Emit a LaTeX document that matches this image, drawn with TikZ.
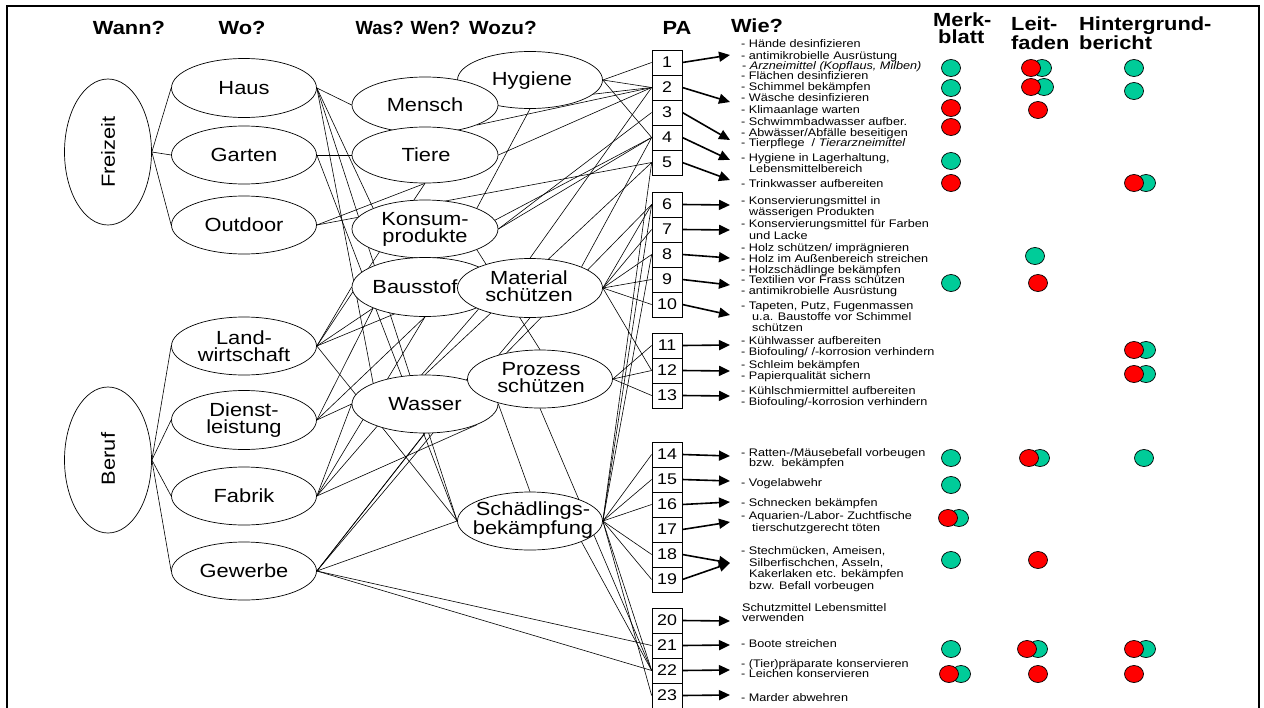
\documentclass[tikz,border=0pt]{standalone}
\usepackage{fontspec}
\usepackage{graphicx}
\setmainfont{Liberation Sans}[FakeStretch=1.15]
\usetikzlibrary{arrows.meta,shapes.geometric}
\pgfdeclarelayer{wires}
\pgfsetlayers{wires,main}
\definecolor{dotgreen}{HTML}{00CC99}
\definecolor{dotred}{HTML}{FF0000}
\begin{document}
\begin{tikzpicture}[x=1pt,y=-1pt,
  oval/.style={ellipse,draw,fill=white,inner sep=0pt,line width=0.7pt},
  lbl/.style={font=\fontsize{19}{17}\selectfont,align=center,inner sep=0pt},
  head/.style={font=\fontsize{19}{17}\selectfont\bfseries,inner sep=0pt,anchor=base},
  headl/.style={font=\fontsize{19}{17}\selectfont\bfseries,inner sep=0pt,anchor=base west},
  pabox/.style={draw,fill=white,minimum width=30pt,minimum height=25pt,inner sep=0pt,
    font=\fontsize{15.5}{15}\selectfont,line width=0.7pt},
  wire/.style={line width=0.6pt},
  arr/.style={line width=1.6pt,-{Triangle[length=11pt,width=10pt]}},
  wie/.style={anchor=base west,inner sep=0pt,font=\fontsize{11}{11}\selectfont},
  dot/.style={ellipse,draw,line width=0.7pt,minimum width=19pt,minimum height=17pt,inner sep=0pt}
]
\useasboundingbox (0,0) rectangle (1264,707);

% frame
\draw[line width=2pt] (7,712) -- (7,6) -- (1259,6) -- (1259,712);

% column headings
\node[head] (hwann) at (129,34) {Wann?};
\node[head] (hwo) at (242,34) {Wo?};
\node[head] (hwas) at (408,34) {\scalebox{0.84}[1]{Was? Wen?}};
\node[head] (hwozu) at (503,34) {\scalebox{0.95}[1]{Wozu?}};
\node[head] (hpa) at (677,34) {PA};
\node[head] (hwie) at (757,32) {Wie?};
\node[headl] (hm1) at (933,26) {Merk-};
\node[headl] (hm2) at (938,43) {blatt};
\node[headl] (hl1) at (1011,30) {Leit-};
\node[headl] (hl2) at (1011,49) {faden};
\node[headl] (hh1) at (1079,30) {Hintergrund-};
\node[headl] (hh2) at (1079,49) {bericht};

% Wann?
\node[oval,minimum width=87pt,minimum height=146pt] (frei) at (108,152) {};
\node[lbl,rotate=90] (freit) at (108,152) {Freizeit};
\node[oval,minimum width=87pt,minimum height=146pt] (beruf) at (108,460) {};
\node[lbl,rotate=90] (beruft) at (108,459) {Beruf};

% Wo?
\node[oval,minimum width=145pt,minimum height=59pt] (haus) at (244,88) {};
\node[lbl] (haust) at (244,88) {Haus};
\node[oval,minimum width=145pt,minimum height=58pt] (garten) at (244,155) {};
\node[lbl] (gartent) at (244,155) {Garten};
\node[oval,minimum width=145pt,minimum height=58pt] (outdoor) at (244,225) {};
\node[lbl] (outdoort) at (244,225) {Outdoor};
\node[oval,minimum width=145pt,minimum height=58pt] (landw) at (244,346) {};
\node[lbl] (landwt) at (244,346) {Land-\\wirtschaft};
\node[oval,minimum width=145pt,minimum height=59pt] (dienst) at (244,420) {};
\node[lbl] (dienstt) at (244,420) {Dienst-\\leistung};
\node[oval,minimum width=145pt,minimum height=58pt] (fabrik) at (244,496) {};
\node[lbl] (fabrikt) at (244,496) {Fabrik};
\node[oval,minimum width=145pt,minimum height=58pt] (gewerbe) at (244,571) {};
\node[lbl] (gewerbet) at (244,571) {Gewerbe};

% Wozu? (partly covered by the next column)
\node[oval,minimum width=145pt,minimum height=57pt] (hyg) at (530,80) {};
\node[lbl] (hygt) at (532,81) {Hygiene};

% Was? Wen?
\node[oval,minimum width=146pt,minimum height=56pt] (mensch) at (425,105) {};
\node[lbl] (menscht) at (425,105) {Mensch};
\node[oval,minimum width=146pt,minimum height=56pt] (tiere) at (425,155) {};
\node[lbl] (tieret) at (426,155) {Tiere};
\node[oval,minimum width=146pt,minimum height=58pt] (konsum) at (425,229) {};
\node[lbl] (konsumt) at (425,229) {Konsum-\\produkte};
\node[oval,minimum width=146pt,minimum height=59pt] (bau) at (425,287) {};
\node[lbl] (baut) at (415,287) {Bausstof};
\node[oval,minimum width=146pt,minimum height=58pt] (wasser) at (425,404) {};
\node[lbl] (wassert) at (425,404) {Wasser};

\node[oval,minimum width=145pt,minimum height=59pt] (mat) at (530,288) {};
\node[lbl] (matt) at (529,286) {Material\\schützen};
\node[oval,minimum width=145pt,minimum height=58pt] (proz) at (540,379) {};
\node[lbl] (prozt) at (541,378) {Prozess\\schützen};
\node[oval,minimum width=145pt,minimum height=58pt] (schaed) at (530,521) {};
\node[lbl] (schaedt) at (533,520) {Schädlings-\\bekämpfung};

% PA boxes
\foreach \n/\y in {1/62.5,2/87.5,3/112.5,4/137.5,5/162.5,
                   6/204.5,7/229.5,8/254.5,9/279.5,10/304.5,
                   11/345.5,12/370.5,13/395.5,
                   14/454.5,15/479.5,16/504.5,17/529.5,18/554.5,19/579.5,
                   20/620.5,21/645.5,22/670.5,23/695.5}
  \node[pabox] (p\n) at (667,\y) {\n};

% arrow tips
\foreach \n/\y in {1/55,2/102,3/140,4/160,5/180,6/205,7/230,8/258,9/285,10/315,
                   11/345,12/371,13/396,14/456,15/481,16/502,17/522,18/563,19/563,
                   20/621,21/645,22/670,23/695}
  \coordinate (t\n) at (730,\y);
\foreach \n in {1,...,23}
  \draw[arr] (p\n.east) -- (t\n);

% connections
\begin{pgfonlayer}{wires}
\draw[wire] (frei.east) -- (haus.west);
\draw[wire] (frei.east) -- (garten.west);
\draw[wire] (frei.east) -- (outdoor.west);
\draw[wire] (beruf.east) -- (landw.west);
\draw[wire] (beruf.east) -- (dienst.west);
\draw[wire] (beruf.east) -- (fabrik.west);
\draw[wire] (beruf.east) -- (gewerbe.west);

\draw[wire] (haus.east) -- (mensch.west);
\draw[wire] (haus.east) -- (konsum.north west);
\draw[wire] (haus.east) -- (schaed.west);
\draw[wire] (haus.east) -- (wasser.north west);
\draw[wire] (garten.east) -- (tiere.west);
\draw[wire] (garten.east) -- (schaed.west);
\draw[wire] (outdoor.east) -- (tiere.south);
\draw[wire] (outdoor.east) -- (p5.west);
\draw[wire] (landw.east) -- (tiere.south);
\draw[wire] (landw.east) -- (schaed.west);
\draw[wire] (landw.east) -- (bau.west);
\draw[wire] (landw.east) -- (bau.south west);
\draw[wire] (landw.east) -- (mat.west);
\draw[wire] (dienst.east) -- (wasser.west);
\draw[wire] (dienst.east) -- (bau.south west);
\draw[wire] (dienst.east) -- (bau.south);
\draw[wire] (fabrik.east) -- (wasser.west);
\draw[wire] (fabrik.east) -- (bau.south);
\draw[wire] (fabrik.east) -- (wasser.south east);
\draw[wire] (fabrik.east) -- (mat.south west);
\draw[wire] (gewerbe.east) -- (schaed.west);
\draw[wire] (gewerbe.east) -- (wasser.south);
\draw[wire] (gewerbe.east) -- (proz.west);
\draw[wire] (gewerbe.east) -- (mat.south);
\draw[wire] (gewerbe.east) -- (p21.west);
\draw[wire] (gewerbe.east) -- (p22.west);

\draw[wire] (hyg.east) -- (p1.west);
\draw[wire] (hyg.east) -- (p2.west);
\draw[wire] (hyg.east) -- (p4.west);
\draw[wire] (mensch.east) -- (p2.west);
\draw[wire] (mensch.south east) -- (p2.west);
\draw[wire] (tiere.east) -- (p2.west);
\draw[wire] (hyg.south) -- (konsum.north east);
\draw[wire] (konsum.east) -- (p3.west);
\draw[wire] (konsum.east) -- (p4.west);
\draw[wire] (konsum.south east) -- (proz.north);
\draw[wire] (bau.north) -- (p4.west);
\draw[wire] (mat.north) -- (p2.west);
\draw[wire] (mat.north east) -- (p4.west);
\draw[wire] (wasser.north) -- (p5.west);
\draw[wire] (wasser.north east) -- (p6.west);
\draw[wire] (wasser.east) -- (schaed.north);

\draw[wire] (mat.east) -- (p6.west);
\draw[wire] (mat.east) -- (p7.west);
\draw[wire] (mat.east) -- (p8.west);
\draw[wire] (mat.east) -- (p9.west);
\draw[wire] (mat.east) -- (p10.west);
\draw[wire] (mat.east) -- (p12.west);
\draw[wire] (proz.east) -- (p11.west);
\draw[wire] (proz.east) -- (p12.west);
\draw[wire] (proz.east) -- (p13.west);
\draw[wire] (proz.south) -- (p22.west);
\draw[wire] (schaed.east) -- (p5.west);
\draw[wire] (schaed.east) -- (p6.west);
\draw[wire] (schaed.east) -- (p8.west);
\draw[wire] (schaed.east) -- (p14.west);
\draw[wire] (schaed.east) -- (p15.west);
\draw[wire] (schaed.east) -- (p16.west);
\draw[wire] (schaed.east) -- (p18.west);
\draw[wire] (schaed.east) -- (p19.west);
\draw[wire] (schaed.east) -- (p22.west);
\draw[wire] (schaed.east) -- (p23.west);
\draw[wire] (schaed.south east) -- (p22.west);
\end{pgfonlayer}

% Wie?
\foreach \x/\y/\t [count=\i] in {
  741/47/{- Hände desinfizieren},
  741/59/{- antimikrobielle Ausrüstung},
  742/69/{- \textit{Arzneimittel (Kopflaus, Milben)}},
  741/79/{- Flächen desinfizieren},
  741/90/{- Schimmel bekämpfen},
  741/101/{- Wäsche desinfizieren},
  741/113/{- Klimaanlage warten},
  741/125/{- Schwimmbadwasser aufber.},
  741/136/{- Abwässer/Abfälle beseitigen},
  741/146/{- Tierpflege~~/ \textit{Tierarzneimittel}},
  741/161/{- Hygiene in Lagerhaltung,},
  749/172/{Lebensmittelbereich},
  741/187/{- Trinkwasser aufbereiten},
  741/204/{- Konservierungsmittel in},
  749/215/{wässerigen Produkten},
  741/227/{- Konservierungsmittel für Farben},
  749/239/{und Lacke},
  741/251/{- Holz schützen/ imprägnieren},
  741/262/{- Holz im Außenbereich streichen},
  741/273/{- Holzschädlinge bekämpfen},
  741/283/{- Textilien vor Frass schützen},
  741/294/{- antimikrobielle Ausrüstung},
  741/309/{- Tapeten, Putz, Fugenmassen},
  752/320/{u.a. Baustoffe vor Schimmel},
  752/331/{schützen},
  741/344/{- Kühlwasser aufbereiten},
  741/355/{- Biofouling/ /-korrosion verhindern},
  741/368/{- Schleim bekämpfen},
  741/379/{- Papierqualität sichern},
  741/394/{- Kühlschmiermittel aufbereiten},
  741/405/{- Biofouling/-korrosion verhindern},
  741/456/{- Ratten-/Mäusebefall vorbeugen},
  749/466/{bzw.~~bekämpfen},
  741/486/{- Vogelabwehr},
  741/506/{- Schnecken bekämpfen},
  741/519/{- Aquarien-/Labor- Zuchtfische},
  752/531/{tierschutzgerecht töten},
  741/554/{- Stechmücken, Ameisen,},
  749/566/{Silberfischchen, Asseln,},
  749/577/{Kakerlaken etc. bekämpfen},
  749/589/{bzw. Befall vorbeugen},
  742/611/{Schutzmittel Lebensmittel},
  742/621/{verwenden},
  741/647/{- Boote streichen},
  741/667/{- (Tier)präparate konservieren},
  741/677/{- Leichen konservieren},
  741/701/{- Marder abwehren}}
  \node[wie] (w\i) at (\x,\y) {\t};

% Merkblatt / Leitfaden / Hintergrundbericht markers
\foreach \x/\y/\c [count=\i] in {
  951/68/dotgreen, 1042/68/dotgreen, 1031/68/dotred, 1134/68/dotgreen,
  951/88/dotgreen, 1044/87/dotgreen, 1031/87/dotred, 1134/91/dotgreen,
  951/108/dotred, 1038/110/dotred,
  951/127/dotred,
  951/161/dotgreen,
  951/183/dotred, 1146/183/dotgreen, 1134/183/dotred,
  1035/256/dotgreen,
  951/283/dotgreen, 1038/283/dotred,
  1146/350/dotgreen, 1134/350/dotred,
  1146/374/dotgreen, 1134/374/dotred,
  951/458/dotgreen, 1040/458/dotgreen, 1029/458/dotred, 1144/458/dotgreen,
  951/485/dotgreen,
  959/518/dotgreen, 948/518/dotred,
  951/560/dotgreen, 1038/560/dotred,
  951/649/dotgreen, 1038/649/dotgreen, 1027/649/dotred, 1146/649/dotgreen, 1134/649/dotred,
  961/674/dotgreen, 949/674/dotred, 1038/674/dotred, 1134/674/dotred}
  \node[dot,fill=\c] (d\i) at (\x,\y) {};
\end{tikzpicture}
\end{document}
